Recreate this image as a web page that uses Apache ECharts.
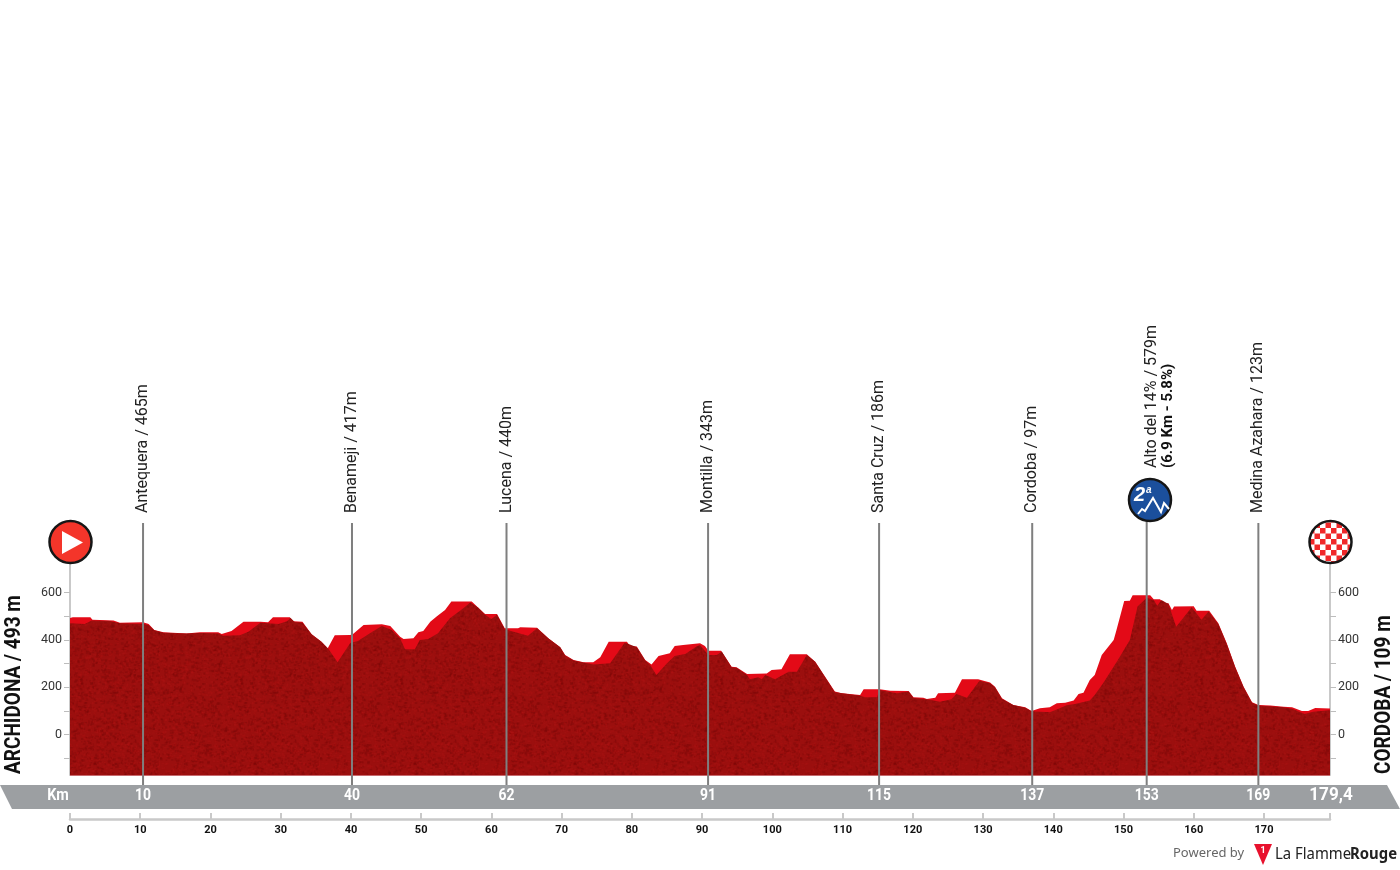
<!DOCTYPE html>
<html>
<head>
<meta charset="utf-8">
<title>Archidona - Cordoba</title>
<script src="https://cdn.jsdelivr.net/npm/echarts@6/dist/echarts.min.js"></script>
<style>
  html, body { margin: 0; padding: 0; background: #fff; }
  #main { width: 1400px; height: 870px; }
</style>
</head>
<body>
<div id="main"></div>
<script>
// light red layer: km and metres
var backKm = [0, 0.4, 2.9, 3.2, 6.2, 7.1, 10.4, 11.2, 12, 13.3, 16.6, 18.5, 21.1, 21.6, 23, 24.7, 27.1, 27.3, 28.2, 28.9, 31.3, 31.8, 33.1, 34.4, 35.8, 36.7, 37.7, 39.9,
  40.3, 41.8, 44.4, 45.6, 47, 47.5, 48.9, 49.6, 50.3, 51.3, 52.2, 53.4, 54.3, 57.2, 58.1, 59.1, 60.8, 61.9, 63.8, 64.1, 66.5, 68.1, 69.8, 70.5, 71.7, 73.1, 74.5, 75.5, 76.7, 79.3, 79.7, 80.7, 81.9, 82.8, 83.8, 85.4, 86.1, 87.3, 89.7,
  90.4, 90.9, 92.7, 94.2, 94.9, 96.4, 99.2, 99.9, 101.3, 102.5, 104.9, 106.1, 108.9, 109.9, 112.5, 113, 115.3, 116.8, 119.4, 120.1, 121.5, 122, 123.2, 123.6, 126, 127, 129.3, 131, 131.7, 132.7, 134.3, 136, 136.9, 138.1, 139.5,
  140.5, 141.7, 142.9, 143.6, 144.3, 145.2, 145.9, 146.9, 148.6, 149, 150.1, 150.9, 151.3, 153.8, 154.3, 155.2, 155.7, 156.4, 156.9, 157.2, 160, 160.4, 162.2, 163.5, 164.7, 165.9, 167.1, 168.3, 169.2, 170.9, 172.8, 174, 175.4, 176.3, 177.3, 179.4];
var backElev = [493, 496, 496, 485, 482, 473, 475, 468, 442, 433, 427, 433, 433, 425, 438, 477, 477, 473, 475, 496, 496, 479, 477, 424, 393, 365, 420, 421,
  425, 463, 466, 459, 414, 404, 407, 433, 438, 477, 499, 527, 562, 562, 537, 510, 510, 450, 450, 454, 452, 407, 369, 337, 316, 306, 306, 327, 393, 393, 375, 372, 316, 297, 332, 344, 375, 379, 386,
  375, 355, 355, 287, 285, 256, 259, 273, 276, 340, 340, 308, 182, 175, 168, 192, 192, 186, 185, 158, 156, 151, 156, 175, 177, 234, 234, 220, 203, 154, 125, 116, 100, 112, 116,
  133, 135, 144, 172, 177, 231, 252, 337, 400, 442, 565, 566, 589, 589, 572, 572, 555, 555, 527, 541, 542, 523, 523, 471, 386, 287, 203, 137, 125, 123, 118, 116, 100, 100, 113, 111];

// dark textured layer: km and metres
var frontKm = [0, 2.1, 3.1, 5.7, 7.1, 10.4, 11.2, 12, 13.3, 16.6, 18.5, 21.1, 21.8, 24.2, 25.4, 27.1, 29.7, 30.9, 31.4, 32, 33.1, 34.4, 35.8, 36.8, 38.1, 39.9,
  41, 42.7, 44.4, 45.8, 47, 47.7, 49.1, 49.8, 51, 52.4, 54.1, 56, 57, 58.1, 59.1, 60, 60.8, 61.9, 65.2, 66.5, 68.1, 69.8, 70.5, 71.7, 74.5, 76.9, 79, 80.7, 81.9, 82.6, 83.5, 85, 86.1, 87.6, 89.2,
  89.7, 90.9, 92.1, 92.8, 94.2, 94.9, 96.4, 96.8, 98, 98.5, 99, 100.4, 102.3, 103.5, 104.9, 106.1, 108.9, 112.5, 113.2, 114.9, 115.3, 117.7, 119.4, 120.1, 122, 123.9, 125.5, 126.2, 127.7, 129.5, 131, 131.7, 132.7, 134.3, 136, 136.9, 139.5,
  140.5, 141.9, 143.1, 145.2, 145.9, 147.1, 149.2, 150.9, 152, 153.3, 154.3, 154.8, 155.4, 156.4, 157.5, 158.3, 159.7, 161.1, 162.1, 163.5, 164.7, 165.9, 167.1, 168.3, 169.2, 172.8, 174, 175.8, 177, 179.4];
var frontElev = [471, 468, 482, 480, 471, 468, 463, 441, 431, 427, 430, 427, 418, 420, 435, 473, 468, 479, 493, 476, 473, 424, 393, 362, 306, 387,
  396, 428, 459, 442, 407, 361, 361, 400, 404, 428, 492, 534, 558, 537, 506, 489, 506, 445, 418, 450, 407, 369, 334, 313, 296, 302, 389, 369, 313, 294, 252, 302, 332, 341, 372,
  379, 337, 337, 351, 285, 283, 252, 234, 243, 234, 252, 234, 266, 266, 337, 308, 179, 165, 158, 158, 189, 175, 182, 155, 150, 139, 150, 172, 156, 228, 217, 200, 151, 125, 114, 99, 95,
  107, 124, 130, 144, 168, 217, 316, 400, 541, 578, 569, 544, 569, 552, 456, 485, 538, 485, 520, 468, 383, 285, 200, 135, 123, 116, 110, 87, 97, 103];

// intermediate points
var placeKm = [10.4, 40.15, 62.15, 90.85, 115.2, 137, 153.3, 169.2];
var placeNames = ['Antequera / 465m', 'Benameji / 417m', 'Lucena / 440m', 'Montilla / 343m', 'Santa Cruz / 186m', 'Cordoba / 97m', 'Alto del 14% / 579m', 'Medina Azahara / 123m'];
var placeBand = ['10', '40', '62', '91', '115', '137', '153', '169'];

// axis ticks
var elevTicks = [-100, 0, 100, 200, 300, 400, 500, 600];
var elevLabels = [0, 200, 400, 600];
var kmTicks = [0, 10, 20, 30, 40, 50, 60, 70, 80, 90, 100, 110, 120, 130, 140, 150, 160, 170, 179.4];
var kmLabels = [0, 10, 20, 30, 40, 50, 60, 70, 80, 90, 100, 110, 120, 130, 140, 150, 160, 170];
var totalKm = 179.4;

var narrow = 'Roboto, sans-serif';

function pairs(xs, ys) {
  return xs.map(function (x, i) { return [x, ys[i]]; });
}

// grainy fill for the dark layer
function grainTexture() {
  var size = 160;
  var c = document.createElement('canvas');
  c.width = c.height = size;
  var g = c.getContext('2d');
  g.fillStyle = '#9b0f0e';
  g.fillRect(0, 0, size, size);
  var seed = 7;
  function next() {
    seed = (seed * 16807) % 2147483647;
    return seed / 2147483647;
  }
  for (var i = 0; i < 5200; i++) {
    g.fillStyle = next() > 0.55 ? 'rgba(120,8,8,0.35)' : 'rgba(176,22,20,0.28)';
    g.fillRect(next() * size, next() * size, 1 + next() * 2, 1 + next() * 1.5);
  }
  return c;
}

function checkerTexture() {
  var c = document.createElement('canvas');
  c.width = c.height = 11;
  var g = c.getContext('2d');
  g.fillStyle = '#fff';
  g.fillRect(0, 0, 11, 11);
  g.fillStyle = '#f0282a';
  g.fillRect(0, 0, 5.5, 5.5);
  g.fillRect(5.5, 5.5, 5.5, 5.5);
  return c;
}

var chart = echarts.init(document.getElementById('main'));

var option = {
  animation: false,
  backgroundColor: '#fff',
  textStyle: { fontFamily: narrow },
  grid: { left: 70, right: 70, top: 563, bottom: 95, containLabel: false },
  xAxis: {
    type: 'value',
    min: 0,
    max: totalKm,
    offset: 44,
    splitLine: { show: false },
    axisLine: { show: true, onZero: false, lineStyle: { color: '#c9c9c9', width: 2.5 } },
    axisTick: { show: true, inside: true, length: 6, customValues: kmTicks, lineStyle: { color: '#c9c9c9', width: 2 } },
    axisLabel: { customValues: kmLabels, margin: 6, color: '#111', fontSize: 11, fontWeight: 'bold', fontFamily: narrow }
  },
  yAxis: [{
    type: 'value',
    min: -170,
    max: 725,
    position: 'left',
    splitLine: { show: false },
    axisLine: { show: true, lineStyle: { color: '#c9c9c9', width: 2 } },
    axisTick: { show: true, length: 6, customValues: elevTicks, lineStyle: { color: '#bdbdbd', width: 1 } },
    axisLabel: { customValues: elevLabels, margin: 8, color: '#333', fontSize: 12.5, fontFamily: 'Roboto' }
  }, {
    type: 'value',
    min: -170,
    max: 725,
    position: 'right',
    splitLine: { show: false },
    axisLine: { show: true, lineStyle: { color: '#c9c9c9', width: 2 } },
    axisTick: { show: true, length: 6, customValues: elevTicks, lineStyle: { color: '#bdbdbd', width: 1 } },
    axisLabel: { customValues: elevLabels, margin: 8, color: '#333', fontSize: 12.5, fontFamily: 'Roboto' }
  }],
  graphic: [
    // km band
    { type: 'polygon', z: 1, shape: { points: [[0, 785], [1387, 785], [1400, 809], [12, 809]] }, style: { fill: '#9c9fa2' } },
    { type: 'text', z: 5, x: 58, y: 796, scaleX: 0.85, style: { text: 'Km', fill: '#fff', font: 'bold 17px ' + narrow, align: 'center', verticalAlign: 'middle' } },
    { type: 'text', z: 5, x: 1331, y: 795, scaleX: 0.9, style: { text: '179,4', fill: '#fff', font: 'bold 19px ' + narrow, align: 'center', verticalAlign: 'middle' } },
    // stage ends
    { type: 'text', z: 5, x: 14, y: 774, rotation: Math.PI / 2, scaleX: 0.865, style: { text: 'ARCHIDONA / 493 m', fill: '#111', font: 'bold 22px ' + narrow, align: 'left', verticalAlign: 'middle' } },
    { type: 'text', z: 5, x: 1384, y: 774, rotation: Math.PI / 2, scaleX: 0.865, style: { text: 'CORDOBA / 109 m', fill: '#111', font: 'bold 22px ' + narrow, align: 'left', verticalAlign: 'middle' } },
    // bottom edge of the profile
    { type: 'line', z: 1, shape: { x1: 70, y1: 775.5, x2: 1330, y2: 775.5 }, style: { stroke: '#c76a6e', lineWidth: 1 } },
    // powered by
    { type: 'text', z: 5, x: 1173, y: 853, style: { text: 'Powered by', fill: '#666', font: '13px "Noto Sans"', align: 'left', verticalAlign: 'middle' } },
    { type: 'polygon', z: 5, shape: { points: [[1254, 844], [1272, 844], [1263, 865]] }, style: { fill: '#e8112d' } },
    { type: 'text', z: 6, x: 1263, y: 851, style: { text: '1', fill: '#fff', font: 'bold 9px ' + narrow, align: 'center', verticalAlign: 'middle' } },
    { type: 'text', z: 5, x: 1275, y: 854, scaleX: 0.93, style: { text: 'La Flamme', fill: '#222', font: '16px "Noto Sans"', align: 'left', verticalAlign: 'middle' } },
    { type: 'text', z: 5, x: 1350, y: 854, scaleX: 0.93, style: { text: 'Rouge', fill: '#222', font: 'bold 16px "Noto Sans"', align: 'left', verticalAlign: 'middle' } }
  ],
  series: [{
    type: 'line',
    name: 'back',
    data: pairs(backKm, backElev),
    showSymbol: false,
    z: 2,
    lineStyle: { width: 0 },
    itemStyle: { color: '#e30a17' },
    areaStyle: { origin: 'start', color: '#e30a17', opacity: 1 }
  }, {
    type: 'line',
    name: 'front',
    data: pairs(frontKm, frontElev),
    showSymbol: false,
    z: 3,
    lineStyle: { width: 0 },
    itemStyle: { color: '#9b0f0e' },
    areaStyle: { origin: 'start', color: { image: grainTexture(), repeat: 'repeat' }, opacity: 1 }
  }, {
    // vertical lines with their names and the km band numbers
    type: 'custom',
    name: 'places',
    data: placeKm.map(function (km, i) { return [km, 0, i]; }),
    encode: { x: 0, y: 1 },
    z: 4,
    silent: true,
    renderItem: function (params, api) {
      var i = api.value(2);
      var x = api.coord([api.value(0), 0])[0];
      var isClimb = i === 6;
      var kids = [{
        type: 'line',
        shape: { x1: x, y1: isClimb ? 520 : 523, x2: x, y2: 785 },
        style: { stroke: '#7f7f7f', lineWidth: 2 }
      }, {
        type: 'text',
        x: x,
        y: 796,
        scaleX: 0.82,
        style: { text: placeBand[i], fill: '#fff', font: 'bold 17px ' + narrow, align: 'center', verticalAlign: 'middle' }
      }];
      if (isClimb) {
        kids.push({
          type: 'text', x: x + 5, y: 468, rotation: Math.PI / 2,
          style: { text: placeNames[i], fill: '#222', font: '16px ' + narrow, align: 'left', verticalAlign: 'middle' }
        }, {
          type: 'text', x: x + 22, y: 468, rotation: Math.PI / 2,
          style: { text: '(6.9 Km - 5.8%)', fill: '#111', font: 'bold 15px ' + narrow, align: 'left', verticalAlign: 'middle' }
        });
      } else {
        kids.push({
          type: 'text', x: x, y: 513, rotation: Math.PI / 2,
          style: { text: placeNames[i], fill: '#222', font: '16px ' + narrow, align: 'left', verticalAlign: 'middle' }
        });
      }
      return { type: 'group', children: kids };
    }
  }, {
    // start, finish and climb badges
    type: 'custom',
    name: 'badges',
    data: [[0, 0, 0], [totalKm, 0, 1], [placeKm[6], 0, 2]],
    encode: { x: 0, y: 1 },
    z: 5,
    silent: true,
    renderItem: function (params, api) {
      var kind = api.value(2);
      var x = api.coord([api.value(0), 0])[0];
      if (kind === 0) {
        return { type: 'group', children: [
          { type: 'circle', shape: { cx: x + 0.5, cy: 542, r: 21 }, style: { fill: '#f4352a', stroke: '#161616', lineWidth: 2.5 } },
          { type: 'polygon', shape: { points: [[x - 8, 531], [x + 13, 542.5], [x - 8, 554]] }, style: { fill: '#fff' } }
        ] };
      }
      if (kind === 1) {
        return { type: 'group', children: [
          { type: 'circle', shape: { cx: x + 0.5, cy: 542, r: 21 }, style: { fill: { image: checkerTexture(), repeat: 'repeat' }, stroke: '#161616', lineWidth: 2.5 } }
        ] };
      }
      var cx = x + 3.3;
      return { type: 'group', children: [
        { type: 'circle', shape: { cx: cx, cy: 500, r: 21 }, style: { fill: '#1b4f9c', stroke: '#161616', lineWidth: 2.5 } },
        { type: 'text', x: cx - 16, y: 495, style: { text: '2', fill: '#fff', font: 'italic bold 20px "Liberation Sans"', align: 'left', verticalAlign: 'middle' } },
        { type: 'text', x: cx - 4, y: 490, style: { text: 'a', fill: '#fff', font: 'italic bold 10px "Liberation Sans"', align: 'left', verticalAlign: 'middle' } },
        { type: 'polyline', shape: { points: [[cx - 12, 514], [cx - 8, 509], [cx - 5, 511], [cx + 3, 498], [cx + 11, 512], [cx + 14, 503], [cx + 19, 509]] }, style: { fill: 'none', stroke: '#fff', lineWidth: 2 } }
      ] };
    }
  }]
};

chart.setOption(option);
</script>
</body>
</html>
